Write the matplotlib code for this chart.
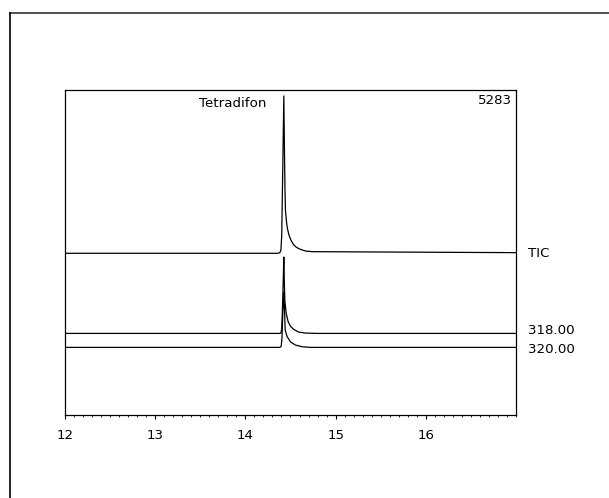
import numpy as np
import matplotlib
matplotlib.use("Agg")
import matplotlib.pyplot as plt
from matplotlib.lines import Line2D

plt.rcParams['font.family'] = ['DejaVu Sans']

# Retention time (min) and signal (% of full scale above each trace's baseline)
tic_time = [12.0, 14.361, 14.383, 14.394, 14.403, 14.414, 14.426, 14.433, 14.439, 14.444, 14.456,
            14.467, 14.483, 14.506, 14.533, 14.567, 14.611, 14.667, 14.744, 17.0]
tic_signal = [0.0, 0.0, 0.25, 1.0, 5.6, 25.6, 48.4, 31.8, 19.5, 13.3, 9.6,
              7.5, 5.6, 4.0, 2.7, 1.8, 1.2, 0.7, 0.5, 0.2]

ion318_time = [12.0, 14.383, 14.394, 14.403, 14.414, 14.426, 14.431, 14.437, 14.452, 14.474,
               14.500, 14.537, 14.592, 14.667, 14.797, 17.0]
ion318_signal = [0.0, 0.0, 0.1, 1.6, 10.2, 23.5, 16.4, 10.2, 6.2, 3.6,
                 2.2, 1.2, 0.4, 0.1, 0.0, 0.0]

ion320_time = [12.0, 14.383, 14.397, 14.406, 14.416, 14.426, 14.436, 14.441, 14.463, 14.500,
               14.556, 14.630, 14.722, 17.0]
ion320_signal = [0.0, 0.0, 0.4, 2.9, 11.5, 17.0, 9.9, 5.3, 3.3, 1.7,
                 0.7, 0.2, 0.0, 0.0]

trace_labels = ["TIC", "318.00", "320.00"]
trace_offsets = [49.75, 25.1, 20.8]
compound = "Tetradifon"
scan_number = "5283"

fig = plt.figure(figsize=(6.09, 4.98), dpi=100)
ax = fig.add_axes([0.1067, 0.1667, 0.7406, 0.6526])

traces = [(tic_time, tic_signal), (ion318_time, ion318_signal), (ion320_time, ion320_signal)]
label_nudge = [0.0, 0.8, -0.6]
for (t, s), off, lab, dy in zip(traces, trace_offsets, trace_labels, label_nudge):
    y = np.array(s) + off
    ax.plot(t, y, color='black', lw=0.9, solid_joinstyle='round')
    ax.text(17.13, off + dy, lab, fontsize=9.6, va='center', ha='left', clip_on=False)

ax.text(14.235, 95.7, compound, fontsize=9.6, ha='right', va='center')
ax.text(16.95, 96.7, scan_number, fontsize=9.6, ha='right', va='center')

ax.set_xlim(12, 17)
ax.set_ylim(0, 100)
ax.set_xticks([12, 13, 14, 15, 16])
ax.set_xticks(np.arange(12, 17.01, 0.1), minor=True)
ax.set_yticks([])
ax.tick_params(axis='x', which='major', length=3, width=0.8, labelsize=9.6, pad=7)
ax.tick_params(axis='x', which='minor', length=1.5, width=0.6)
for sp in ax.spines.values():
    sp.set_linewidth(0.9)

# outer frame (top and left edges)
fig.add_artist(Line2D([9.5 / 609, 1.0], [1 - 13.5 / 498] * 2, transform=fig.transFigure, color='#333333', lw=1.2))
fig.add_artist(Line2D([9.5 / 609] * 2, [0.0, 1 - 13.5 / 498], transform=fig.transFigure, color='black', lw=1.2))

fig.savefig("out.png", dpi=100)
